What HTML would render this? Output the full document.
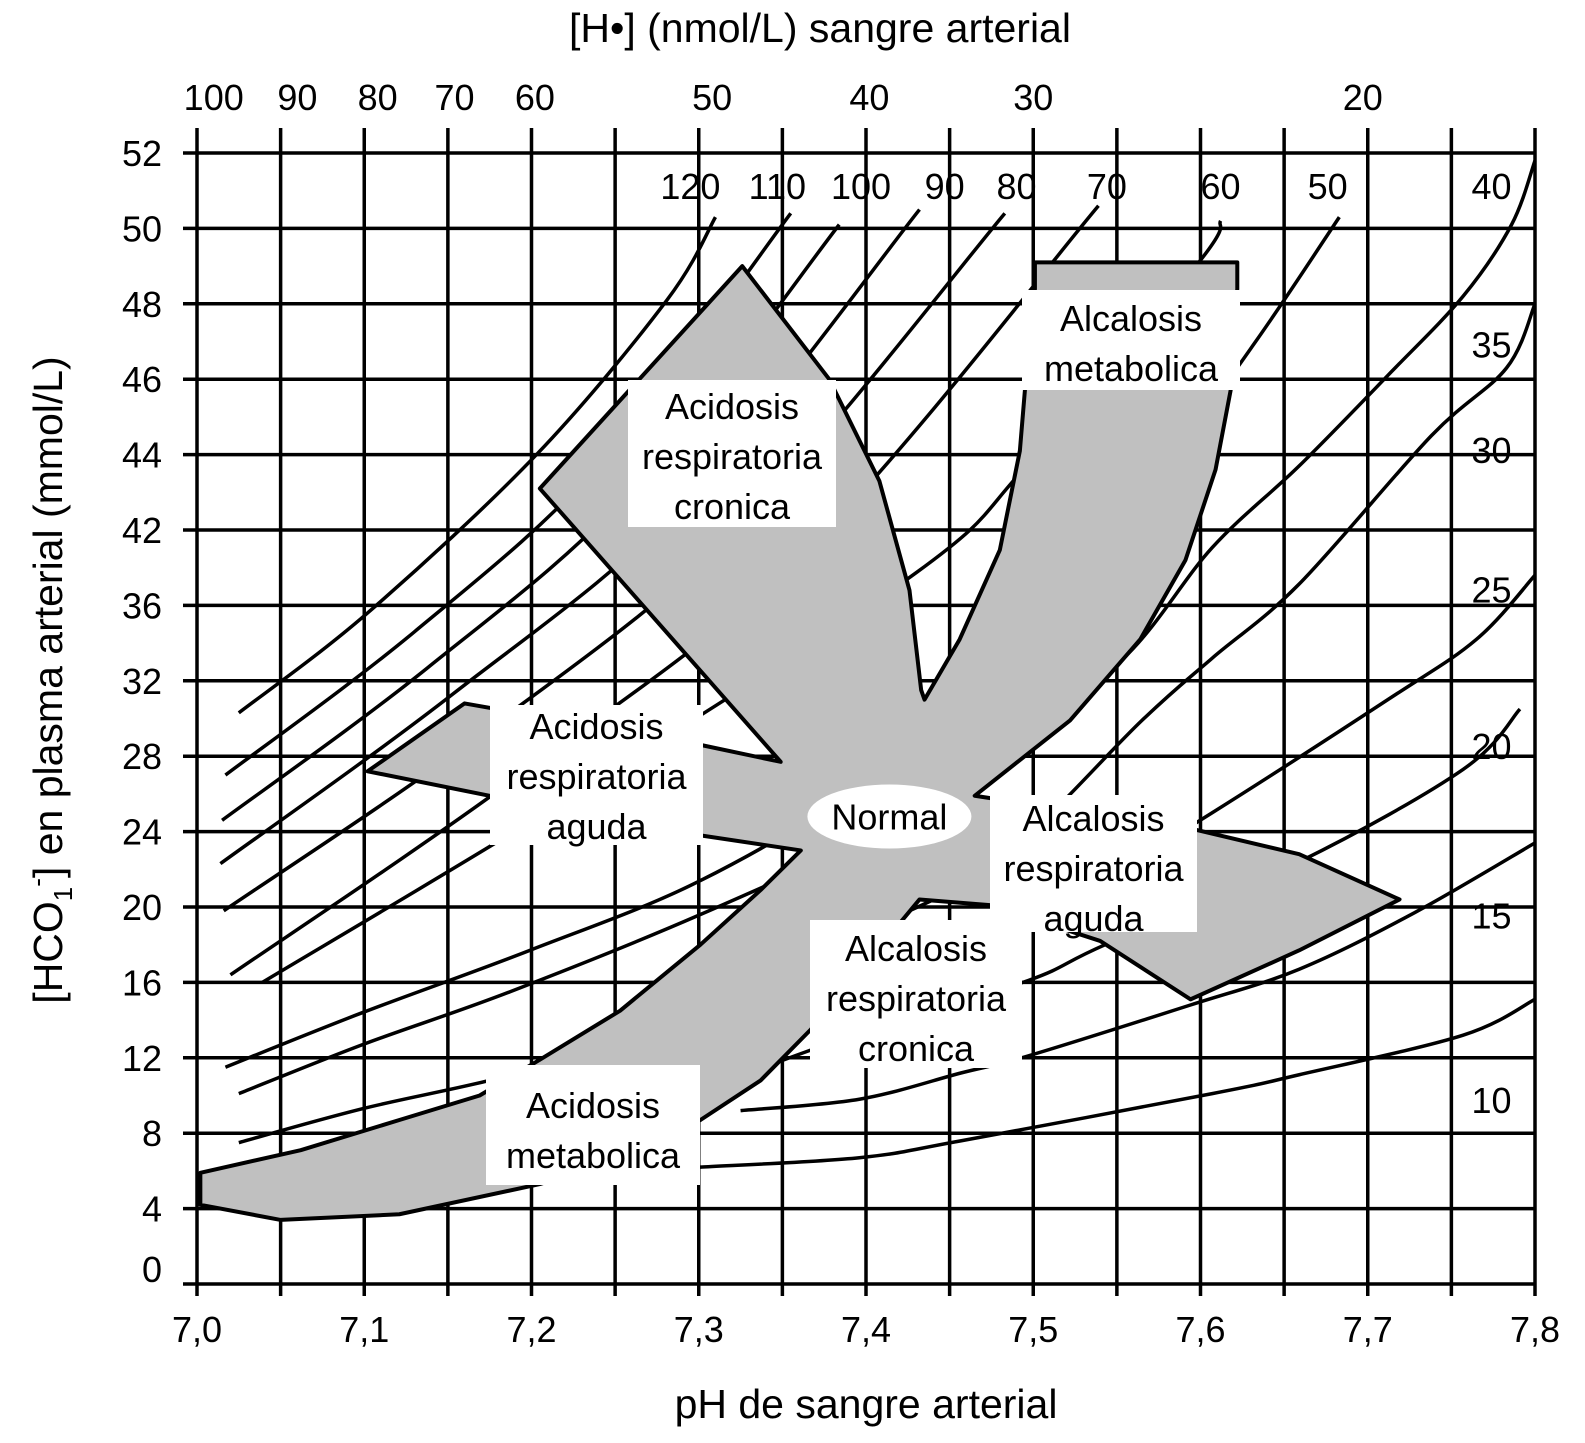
<!DOCTYPE html>
<html><head><meta charset="utf-8"><style>
html,body{margin:0;padding:0;background:#fff;}
svg{display:block;font-family:"Liberation Sans",Arial,sans-serif;}
</style></head><body>
<svg id="chart" width="1585" height="1443" viewBox="0 0 1585 1443" xmlns="http://www.w3.org/2000/svg">
<g id="grid"></g>
<g id="isobars"></g>
<g id="regions"></g>
<g id="labels"></g>
<g id="axes"></g>
</svg>
<script>
// ---- data ----
const phTicks = [7.0,7.1,7.2,7.3,7.4,7.5,7.6,7.7,7.8];
const phTickLabels = ["7,0","7,1","7,2","7,3","7,4","7,5","7,6","7,7","7,8"];
const hco3Ticks = [0,4,8,12,16,20,24,28,32,36,42,44,46,48,50,52];
const hTickLabels = ["100","90","80","70","60","50","40","30","20"];
const hTickPH = [7.010,7.060,7.108,7.154,7.202,7.308,7.402,7.500,7.697];
const pco2Values = [120,110,100,90,80,70,60,50,40,35,25,20,15,10];
const iso120 = [[7.025,30.3],[7.102,35.6],[7.203,44.0],[7.281,48.1],[7.310,50.3]];
const iso110 = [[7.017,27.0],[7.130,34.6],[7.242,43.8],[7.355,50.4]];
const iso100 = [[7.015,24.6],[7.138,32.7],[7.261,43.1],[7.384,50.1]];
const iso90 = [[7.014,22.3],[7.153,31.3],[7.293,42.8],[7.432,50.5]];
const iso80 = [[7.016,19.8],[7.172,29.3],[7.327,42.2],[7.483,50.4]];
const iso70 = [[7.020,16.4],[7.193,27.0],[7.366,40.6],[7.539,50.6]];
const iso60 = [[7.039,16.0],[7.230,26.2],[7.430,38.6],[7.496,43.7],[7.599,49.1],[7.612,50.2]];
const iso50 = [[7.017,11.5],[7.099,14.4],[7.199,17.7],[7.301,21.4],[7.402,26.7],[7.480,32.6],[7.564,42.8],[7.633,47.0],[7.683,50.3]];
const iso40 = [[7.025,10.1],[7.099,12.7],[7.187,15.5],[7.301,19.6],[7.402,23.8],[7.480,28.3],[7.554,33.2],[7.607,40.6],[7.659,43.7],[7.712,46.1],[7.757,48.2],[7.786,50.1],[7.800,51.8]];
const iso35 = [[7.025,7.5],[7.099,9.3],[7.196,11.3],[7.301,14.5],[7.402,18.8],[7.480,22.5],[7.565,29.9],[7.607,33.2],[7.659,37.7],[7.738,44.5],[7.783,46.3],[7.800,48.0]];
const iso25 = [[7.004,5.2],[7.099,7.4],[7.167,9.9],[7.301,13.2],[7.402,15.9],[7.480,18.5],[7.540,21.4],[7.607,25.0],[7.712,31.0],[7.765,34.2],[7.800,38.4]];
const iso20 = [[7.217,7.9],[7.301,10.3],[7.402,13.5],[7.497,16.1],[7.543,18.0],[7.659,22.4],[7.757,27.3],[7.791,30.5]];
const iso15 = [[7.325,9.2],[7.396,9.8],[7.457,11.2],[7.497,12.1],[7.594,14.8],[7.659,16.7],[7.728,19.7],[7.800,23.4]];
const iso10 = [[7.301,6.2],[7.396,6.7],[7.457,7.6],[7.607,10.1],[7.659,11.1],[7.757,13.2],[7.800,15.1]];
const isoLabelPos = [[7.295,51.1],[7.347,51.1],[7.397,51.1],[7.447,51.1],[7.490,51.1],[7.544,51.1],[7.612,51.1],[7.676,51.1],[7.774,51.1],[7.774,46.9],[7.774,37.2],[7.774,28.5],[7.774,19.5],[7.774,9.7]];
const isoExtraLabel = ["30",7.774,44.1];
const regionOutline = [[7.002,5.9],[7.062,7.1],[7.121,8.7],[7.169,10.0],[7.205,11.9],[7.253,14.5],[7.301,18.0],[7.337,20.9],[7.361,23.0],[7.301,23.8],[7.241,24.9],[7.175,25.9],[7.102,27.2],[7.160,30.8],[7.301,28.6],[7.349,27.7],[7.205,43.1],[7.326,49.0],[7.378,46.0],[7.408,43.3],[7.426,37.2],[7.433,31.5],[7.435,31.0],[7.456,34.2],[7.480,40.4],[7.492,44.1],[7.495,45.7],[7.501,48.4],[7.501,49.1],[7.622,49.1],[7.622,48.4],[7.618,45.7],[7.609,43.6],[7.591,39.6],[7.564,34.2],[7.522,29.9],[7.465,25.9],[7.597,24.1],[7.659,22.8],[7.719,20.4],[7.659,17.7],[7.594,15.1],[7.540,18.2],[7.474,20.1],[7.432,20.4],[7.402,17.2],[7.367,13.5],[7.337,10.8],[7.301,8.7],[7.241,6.3],[7.205,5.3],[7.121,3.7],[7.050,3.4],[7.002,4.2]];
const normalPoint = [7.414,24.8];

const isoSeries = [iso120,iso110,iso100,iso90,iso80,iso70,iso60,iso50,iso40,iso35,iso25,iso20,iso15,iso10];

// ---- scales ----
const X0=197, PXPH=1672.5, Y0=1284, STEP=75.4;
function xs(ph){return X0+(ph-7)*PXPH;}
function ys(v){
  let i=0;
  while(i<hco3Ticks.length-2 && v>hco3Ticks[i+1]) i++;
  const a=hco3Ticks[i], b=hco3Ticks[i+1];
  const idx=i+(v-a)/(b-a);
  return Y0-idx*STEP;
}
const NS="http://www.w3.org/2000/svg";
function mk(tag,attrs,parent){const e=document.createElementNS(NS,tag);for(const k in attrs)e.setAttribute(k,attrs[k]);parent.appendChild(e);return e;}
function txt(s,x,y,size,anchor,parent){const t=mk('text',{x:x,y:y,'font-size':size,'text-anchor':anchor,fill:'#000'},parent);t.textContent=s;return t;}

// grid
const grid=document.getElementById('grid');
for(let k=0;k<=16;k++){
  const ph=7+k*0.05;
  const l=mk('line',{x1:xs(ph),x2:xs(ph),y1:128,y2:1296,stroke:'#000','stroke-width':3.5},grid);
  
  
}
hco3Ticks.forEach(v=>{
  const l=mk('line',{x1:183,x2:xs(7.8),y1:ys(v),y2:ys(v),stroke:'#000','stroke-width':3.5},grid);
  
  
});

// isobars (Catmull-Rom)
function smoothPath(pts){
  const p=pts.map(d=>[xs(d[0]),ys(d[1])]);
  let s='M'+p[0][0]+','+p[0][1];
  for(let i=0;i<p.length-1;i++){
    const p0=p[Math.max(i-1,0)],p1=p[i],p2=p[i+1],p3=p[Math.min(i+2,p.length-1)];
    const c1=[p1[0]+(p2[0]-p0[0])/6,p1[1]+(p2[1]-p0[1])/6];
    const c2=[p2[0]-(p3[0]-p1[0])/6,p2[1]-(p3[1]-p1[1])/6];
    s+=' C'+c1[0]+','+c1[1]+' '+c2[0]+','+c2[1]+' '+p2[0]+','+p2[1];
  }
  return s;
}
const iso=document.getElementById('isobars');
isoSeries.forEach((pts,i)=>{
  const path=mk('path',{d:smoothPath(pts),fill:'none',stroke:'#000','stroke-width':3.5},iso);
  
  
});

// regions
const reg=document.getElementById('regions');
const poly=mk('polygon',{points:regionOutline.map(d=>xs(d[0])+','+ys(d[1])).join(' '),fill:'#c0c0c0',stroke:'#000','stroke-width':4,'stroke-linejoin':'round'},reg);


const ell=mk('ellipse',{cx:xs(normalPoint[0]),cy:ys(normalPoint[1]),rx:82,ry:32,fill:'#fff'},reg);



// isobar labels
const lab=document.getElementById('labels');
isoLabelPos.forEach((p,i)=>{
  const t=txt(String(pco2Values[i]),xs(p[0]),ys(p[1])+12,36,'middle',lab);
  
  
});
const t30=txt(isoExtraLabel[0],xs(isoExtraLabel[1]),ys(isoExtraLabel[2])+12,36,'middle',lab);



// region label boxes (annotations)
const boxes=[
 ['label-acidosis-respiratoria-cronica',628,380,208,147,['Acidosis','respiratoria','cronica'],406],
 ['label-alcalosis-metabolica',1022,290,218,100,['Alcalosis','metabolica'],318],
 ['label-acidosis-respiratoria-aguda',490,705,213,140,['Acidosis','respiratoria','aguda'],726],
 ['label-alcalosis-respiratoria-aguda',990,795,207,137,['Alcalosis','respiratoria','aguda'],818],
 ['label-alcalosis-respiratoria-cronica',810,920,212,148,['Alcalosis','respiratoria','cronica'],948],
 ['label-acidosis-metabolica',486,1065,214,120,['Acidosis','metabolica'],1105]
];
boxes.forEach(b=>{
  const g=mk('g',{},lab);
  
  
  mk('rect',{x:b[1],y:b[2],width:b[3],height:b[4],fill:'#fff'},g);
  b[5].forEach((s,j)=>{txt(s,b[1]+b[3]/2,b[6]+j*50+13,36,'middle',g);});
});
const nt=txt('Normal',xs(normalPoint[0]),ys(normalPoint[1])+13,36,'middle',lab);



// axes labels
const ax=document.getElementById('axes');
hco3Ticks.forEach((v,i)=>{
  const yy = v===0 ? ys(v)-2 : ys(v)+13;
  const t=txt(String(v),162,yy,36,'end',ax);
  
  
});
phTicks.forEach((p,i)=>{
  const t=txt(phTickLabels[i],xs(p),1342,36,'middle',ax);
  
  
});
hTickPH.forEach((p,i)=>{
  const t=txt(hTickLabels[i],xs(p),110,36,'middle',ax);
  
  
});
</script>
<svg style="position:absolute;left:0;top:0" width="1585" height="1443" xmlns="http://www.w3.org/2000/svg">
<text x="820" y="42" font-size="41" text-anchor="middle" font-family="Liberation Sans, sans-serif">[H•] (nmol/L) sangre arterial</text>
<text x="866" y="1418" font-size="41" text-anchor="middle" font-family="Liberation Sans, sans-serif">pH de sangre arterial</text>
<text transform="translate(62,680) rotate(-90)" font-size="41" text-anchor="middle" font-family="Liberation Sans, sans-serif">[HCO<tspan font-size="26" dy="10">1</tspan><tspan font-size="26" dy="-26">-</tspan><tspan dy="16">] en plasma arterial (mmol/L)</tspan></text>
</svg>
</body></html>
